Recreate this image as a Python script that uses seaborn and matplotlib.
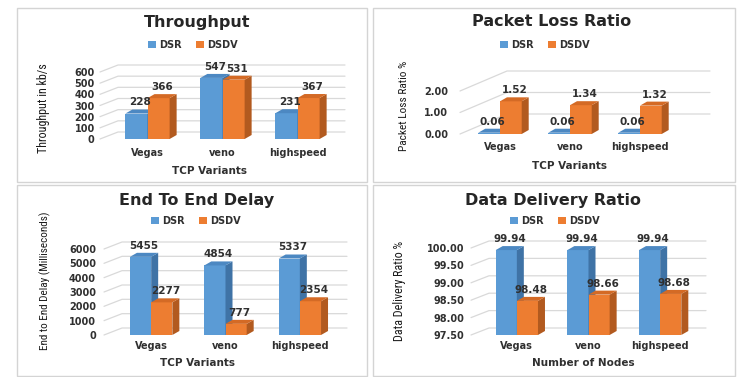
import matplotlib
matplotlib.use("Agg")
import matplotlib.pyplot as plt
import seaborn as sns
import pandas as pd
from matplotlib import font_manager as fm
from matplotlib.patches import Polygon, Rectangle
from matplotlib.lines import Line2D
from matplotlib.transforms import IdentityTransform

# ---------------- data ----------------
variants = ["Vegas", "veno", "highspeed"]
protocols = ["DSR", "DSDV"]

throughput_dsr = [228, 547, 231]
throughput_dsdv = [366, 531, 367]

loss_dsr = [0.06, 0.06, 0.06]
loss_dsdv = [1.52, 1.34, 1.32]

delay_dsr = [5455, 4854, 5337]
delay_dsdv = [2277, 777, 2354]

delivery_dsr = [99.94, 99.94, 99.94]
delivery_dsdv = [98.48, 98.66, 98.68]

throughput_ticks = [0, 100, 200, 300, 400, 500, 600]
loss_ticks = [0.0, 1.0, 2.0]
delay_ticks = [0, 1000, 2000, 3000, 4000, 5000, 6000]
delivery_ticks = [97.5, 98.0, 98.5, 99.0, 99.5, 100.0]

# ---------------- style ----------------
sns.set_theme(style="white")
plt.rcParams["font.family"] = ["DejaVu Sans"]

W, H = 737, 377
BLUE, ORANGE = "#5B9BD5", "#ED7D31"
BLUE_SIDE, ORANGE_SIDE = "#3F73A6", "#B25A1F"
BLUE_TOP, ORANGE_TOP = "#4C88C2", "#D46A25"
TXT = "#303030"
GRID = "#d9d9d9"

# pick a narrow font for the axis titles if one is installed
_names = {f.name for f in fm.fontManager.ttflist}
_narrow = None
for cand in ["Liberation Sans Narrow", "Roboto Condensed", "Open Sans Condensed",
             "Noto Sans Condensed", "DejaVu Sans Condensed"]:
    if cand in _names:
        _narrow = fm.FontProperties(family=cand)
        break
if _narrow is None:
    _narrow = fm.FontProperties(family="Liberation Sans")

fig = plt.figure(figsize=(W / 100, H / 100), dpi=100)
fig.patch.set_facecolor("white")
renderer = fig.canvas.get_renderer()


def px_axes(left, top, right, bottom):
    return fig.add_axes([left / W, 1 - bottom / H, (right - left) / W, (bottom - top) / H])


def ftext(x, y, s, **kw):
    return fig.text(x / W, 1 - y / H, s, **kw)


def fit_ylabel(x, y, s, length):
    fp = _narrow.copy()
    fp.set_size(10)
    t = ftext(x, y, s, rotation=90, ha="center", va="center", color="#1a1a1a",
              fontproperties=fp)
    h = t.get_window_extent(renderer).height
    fp2 = _narrow.copy()
    fp2.set_size(10 * length / h)
    t.set_fontproperties(fp2)
    return t


# panel borders
for (l, t, r, b) in [(17, 8, 367, 182), (373, 8, 735, 182), (17, 185, 367, 376), (373, 185, 735, 376)]:
    fig.add_artist(Rectangle((l / W, 1 - b / H), (r - l) / W, (b - t) / H,
                             transform=fig.transFigure, fill=False,
                             edgecolor="#d4d4d4", lw=1.0, zorder=0))


def panel(box, dsr, dsdv, ylim, yticks, tickfmt, labfmt, width, ypad, xpad,
          grid_geom, depth=(7, 4)):
    ax = px_axes(*box)
    df = pd.DataFrame({
        "variant": variants * 2,
        "protocol": [protocols[0]] * len(dsr) + [protocols[1]] * len(dsdv),
        "value": list(dsr) + list(dsdv),
    })
    sns.barplot(data=df, x="variant", y="value", hue="protocol",
                hue_order=protocols, order=variants,
                palette=[BLUE, ORANGE], saturation=1, width=width,
                errorbar=None, legend=False, ax=ax)
    ax.set_xlim(-0.5, len(variants) - 0.5)
    ax.set_ylim(*ylim)
    ax.set_yticks(yticks)
    ax.set_yticklabels([tickfmt.format(v) for v in yticks])
    ax.set_xlabel("")
    ax.set_ylabel("")
    for s in ax.spines.values():
        s.set_visible(False)
    ax.set_facecolor("none")
    ax.tick_params(axis="both", length=0, labelsize=7, labelcolor=TXT)
    ax.tick_params(axis="y", pad=ypad)
    ax.tick_params(axis="x", pad=xpad)
    for lab in ax.get_xticklabels() + ax.get_yticklabels():
        lab.set_fontweight("bold")

    # perspective gridlines
    fdx, bdx, gdy, rdx = grid_geom
    x0d = ax.transAxes.transform((0, 0))[0]
    x1d = ax.transAxes.transform((1, 0))[0]
    for t in yticks:
        y = ax.transData.transform((0, t))[1]
        ax.add_line(Line2D([x0d + fdx, x0d + bdx, x1d + rdx], [y, y + gdy, y + gdy],
                           transform=IdentityTransform(), color=GRID, lw=0.9,
                           zorder=0.5, clip_on=False))

    # 3-D faces and value labels
    dx, dy = depth
    ybot = ax.transAxes.transform((0, 0))[1]
    sides = [BLUE_SIDE, ORANGE_SIDE]
    tops = [BLUE_TOP, ORANGE_TOP]
    vals = [dsr, dsdv]
    for i, cont in enumerate(ax.containers):
        for p, v in zip(cont.patches, vals[i]):
            (xa, ya), (xb, yb) = ax.transData.transform(
                [(p.get_x(), p.get_y()), (p.get_x() + p.get_width(), p.get_y() + p.get_height())])
            ya = max(ya, ybot)
            z = 2 + i
            p.set_zorder(z)
            p.set_edgecolor("none")
            ax.add_patch(Polygon([(xb, ya), (xb + dx, ya + dy), (xb + dx, yb + dy), (xb, yb)],
                                 closed=True, transform=IdentityTransform(),
                                 facecolor=sides[i], edgecolor="none",
                                 zorder=z + 0.1, clip_on=False))
            ax.add_patch(Polygon([(xa, yb), (xa + dx, yb + dy), (xb + dx, yb + dy), (xb, yb)],
                                 closed=True, transform=IdentityTransform(),
                                 facecolor=tops[i], edgecolor="none",
                                 zorder=z + 0.2, clip_on=False))
            ax.annotate(labfmt.format(v), (p.get_x() + p.get_width() / 2, p.get_y() + p.get_height()),
                        xytext=(dx * 0.36, dy * 0.72 + 1.5), textcoords="offset points",
                        ha="center", va="bottom", fontsize=7.5, fontweight="bold",
                        color=TXT, zorder=10, annotation_clip=False)
    ax.set_xlim(-0.5, len(variants) - 0.5)
    ax.set_ylim(*ylim)
    return ax


def legend_at(ax, x, y):
    handles = [Rectangle((0, 0), 1, 1, facecolor=c, edgecolor="none") for c in (BLUE, ORANGE)]
    leg = ax.legend(handles, protocols, loc="center", bbox_to_anchor=(x / W, 1 - y / H),
                    bbox_transform=fig.transFigure, ncol=2, frameon=False,
                    handlelength=0.8, handleheight=0.8, handletextpad=0.4,
                    columnspacing=1.4, prop={"size": 7, "weight": "bold"})
    for t in leg.get_texts():
        t.set_color(TXT)


title_kw = dict(ha="center", va="center", fontsize=11.5, fontweight="bold", color="#262626")
xlab_kw = dict(ha="center", va="center", fontsize=7.5, fontweight="bold", color=TXT)

# ---- Throughput ----
ax1 = panel((110, 72, 335, 139), throughput_dsr, throughput_dsdv, (0, 600),
            throughput_ticks, "{:.0f}", "{:.0f}", 0.59, 11, 6.5, (-10, 8, 7, 10))
ftext(197, 22, "Throughput", **title_kw)
legend_at(ax1, 193, 45)
fit_ylabel(44, 108, "Throughput in kb/s", 90)
ftext(210, 171, "TCP Variants", **xlab_kw)

# ---- Packet Loss Ratio ----
ax2 = panel((465, 91, 675, 134), loss_dsr, loss_dsdv, (0, 2),
            loss_ticks, "{:.2f}", "{:.2f}", 0.62, 12, 5.5, (-5, 42, 20, 35))
ftext(552, 22, "Packet Loss Ratio", **title_kw)
legend_at(ax2, 545, 45)
fit_ylabel(404, 106, "Packet Loss Ratio %", 90)
ftext(570, 166, "TCP Variants", **xlab_kw)

# ---- End To End Delay ----
ax3 = panel((114, 249, 337, 335), delay_dsr, delay_dsdv, (0, 6000),
            delay_ticks, "{:.0f}", "{:.0f}", 0.57, 13, 4.5, (-10, 8, 7, 10))
ftext(197, 200, "End To End Delay", **title_kw)
legend_at(ax3, 196, 221)
fit_ylabel(45, 281, "End to End Delay (Milliseconds)", 138)
ftext(197, 363, "TCP Variants", **xlab_kw)

# ---- Data Delivery Ratio ----
ax4 = panel((481, 248, 696, 335), delivery_dsr, delivery_dsdv, (97.5, 100),
            delivery_ticks, "{:.2f}", "{:.2f}", 0.59, 12, 4.5, (-10, 8, 7, 10))
ftext(553, 200, "Data Delivery Ratio", **title_kw)
legend_at(ax4, 555, 221)
fit_ylabel(400, 291, "Data Delivery Ratio %", 100)
ftext(583, 363, "Number of Nodes", **xlab_kw)

fig.savefig("out.png", dpi=100, facecolor="white")
